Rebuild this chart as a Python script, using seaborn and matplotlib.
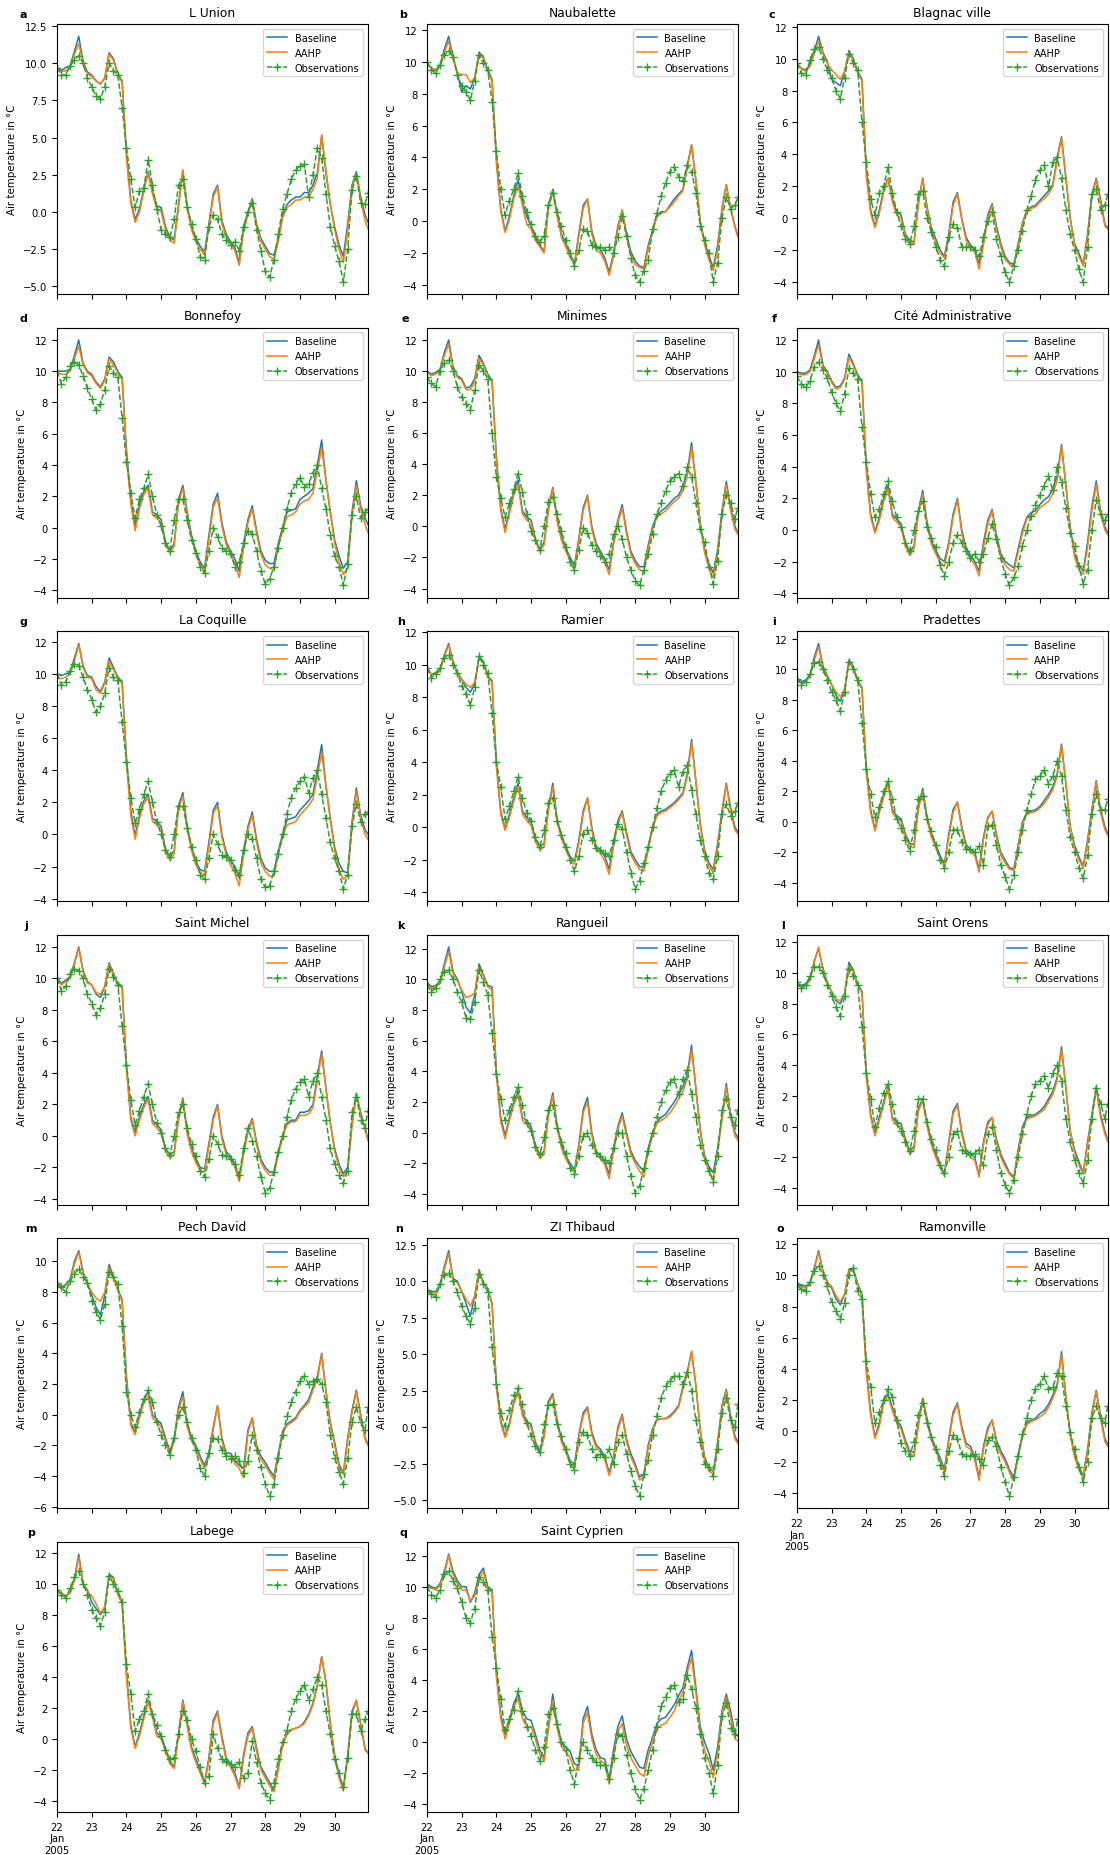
import pandas as pd
import matplotlib
matplotlib.use("Agg")
import matplotlib.pyplot as plt
import matplotlib.dates as mdates
from matplotlib.ticker import MultipleLocator, FuncFormatter
import seaborn as sns

# 3-hourly readings from 22 Jan 2005 00:00, last sample at the right edge (30 Jan 23:00)
TIMES = list(pd.date_range("2005-01-22", periods=72, freq="3h")) + [pd.Timestamp("2005-01-30 23:00")]

# ---- a: L Union
A_BASE = [9.7, 9.5, 9.7, 9.8, 10.8, 11.8, 10.1, 9.4,
          9.2, 8.8, 8.6, 9.0, 10.7, 10.3, 9.3, 8.8,
          4.0, 0.8, -0.5, 0.2, 1.6, 2.7, 1.4, 0.4,
          0.3, -1.0, -1.7, -1.9, 0.5, 2.8, 0.4, -1.0,
          -1.8, -2.3, -2.7, -0.8, 1.2, 1.8, -0.6, -1.5,
          -2.0, -2.4, -3.4, -1.0, 0.0, 0.9, -0.8, -1.8,
          -2.3, -2.8, -2.9, -1.8, -0.2, 0.5, 0.8, 1.0,
          1.0, 1.3, 1.3, 1.8, 2.6, 5.1, 2.6, 0.5,
          -1.0, -2.2, -3.0, -0.8, 1.8, 2.7, 1.0, -0.2, -0.7]
A_AAHP = [9.6, 9.4, 9.5, 9.7, 10.6, 11.3, 10.0, 9.3,
          9.1, 8.8, 8.6, 9.0, 10.6, 10.2, 9.2, 8.7,
          3.6, 0.6, -0.7, 0.0, 1.4, 2.6, 1.2, 0.2,
          0.0, -1.2, -1.9, -2.1, 0.3, 2.8, 0.2, -1.2,
          -2.0, -2.5, -2.9, -1.0, 1.0, 1.7, -0.8, -1.7,
          -2.2, -2.6, -3.6, -1.3, -0.2, 0.9, -1.0, -2.0,
          -2.5, -3.0, -3.2, -2.0, -0.4, 0.3, 0.5, 0.8,
          0.8, 1.0, 1.0, 1.5, 2.3, 5.2, 2.8, 0.5,
          -1.2, -2.5, -3.4, -1.2, 1.6, 2.6, 0.8, -0.6, -1.1]
A_OBS = [9.7, 9.2, 9.2, 9.8, 10.2, 10.5, 10.0, 9.0,
         8.4, 7.8, 7.6, 8.4, 10.0, 9.5, 9.2, 7.0,
         4.3, 2.2, 0.3, 1.4, 1.6, 3.5, 1.8, 0.2,
         -1.2, -1.5, -1.7, -0.5, 1.8, 2.2, 0.3, -0.8,
         -1.8, -3.0, -3.2, -1.0, -0.2, -0.5, -1.5, -1.9,
         -2.2, -2.0, -2.6, -1.0, 0.0, 0.6, -1.2, -2.6,
         -4.0, -4.4, -3.2, -1.5, 0.2, 1.2, 2.2, 2.8,
         3.1, 3.2, 1.0, 2.5, 4.3, 3.6, 1.2, -1.0,
         -2.3, -3.3, -4.7, -2.5, 1.5, 2.4, 0.6, 0.5, 1.3]

# ---- b: Naubalette
B_BASE = [9.9, 9.6, 9.5, 9.8, 10.8, 11.6, 10.3, 9.3,
          8.1, 8.5, 8.3, 9.0, 10.6, 10.3, 9.5, 8.9,
          4.0, 0.8, -0.6, 0.3, 1.6, 2.6, 1.2, 0.3,
          -0.3, -1.0, -1.5, -1.9, 1.0, 2.0, 0.5, -0.8,
          -1.4, -2.1, -2.6, -0.8, 1.0, 1.4, -0.6, -1.6,
          -1.8, -2.3, -3.2, -2.0, -0.3, 0.7, -0.8, -1.9,
          -2.5, -2.8, -2.9, -1.5, -0.6, 0.4, 0.6, 0.6,
          1.0, 1.4, 1.7, 2.0, 3.5, 4.8, 2.5, 0.0,
          -1.3, -2.2, -2.9, -1.5, 0.8, 2.3, 0.8, -0.3, -0.9]
B_AAHP = [9.9, 9.6, 9.5, 9.7, 10.6, 11.3, 10.2, 9.3,
          9.2, 9.2, 8.7, 9.0, 10.5, 10.2, 9.4, 8.8,
          3.6, 0.6, -0.7, 0.1, 1.4, 2.2, 1.0, -0.2,
          -0.5, -1.2, -1.6, -2.0, 0.8, 1.9, 0.3, -1.0,
          -1.6, -2.3, -2.7, -1.0, 0.8, 1.4, -0.8, -1.8,
          -2.0, -2.5, -3.4, -2.2, -0.5, 0.7, -1.0, -2.1,
          -2.7, -2.9, -3.0, -1.7, -0.7, 0.3, 0.5, 0.6,
          0.9, 1.2, 1.6, 1.9, 3.3, 4.8, 2.6, 0.0,
          -1.5, -2.4, -3.1, -1.8, 0.6, 2.3, 0.8, -0.4, -1.0]
B_OBS = [10.0, 9.5, 9.3, 9.8, 10.4, 10.7, 10.3, 9.2,
         8.5, 8.1, 7.6, 8.8, 10.4, 9.9, 9.5, 7.5,
         4.4, 2.0, 0.4, 1.3, 2.0, 3.0, 1.6, 0.6,
         -0.2, -0.9, -1.3, -0.9, 1.0, 1.8, 0.6, -0.3,
         -1.2, -2.0, -2.8, -1.8, -0.5, -0.6, -1.5, -1.6,
         -1.6, -1.8, -1.6, -2.0, -1.0, 0.3, -0.9, -2.3,
         -3.4, -3.8, -3.1, -2.4, -0.5, 0.5, 1.6, 2.4,
         3.1, 3.4, 2.8, 2.5, 3.5, 3.1, 1.8, -0.3,
         -1.2, -2.0, -3.8, -2.6, 0.2, 1.5, 0.8, 1.0, 1.5]

# ---- c: Blagnac ville
C_BASE = [9.7, 9.4, 9.3, 9.6, 10.5, 11.4, 10.4, 9.8,
          8.7, 8.5, 8.3, 9.2, 10.5, 10.0, 9.2, 8.7,
          3.0, 0.5, -0.5, 0.5, 1.8, 2.5, 1.2, 0.4,
          0.2, -1.0, -1.4, -1.5, 1.0, 2.5, 0.7, -0.6,
          -1.3, -2.0, -2.4, -1.0, 1.0, 1.6, 0.0, -1.2,
          -1.7, -1.9, -2.9, -1.5, 0.2, 0.9, -0.5, -1.6,
          -2.4, -2.8, -2.9, -1.6, -0.3, 0.5, 0.7, 0.8,
          1.1, 1.4, 1.7, 2.1, 3.8, 5.1, 2.5, 0.0,
          -1.6, -2.2, -2.9, -1.0, 1.5, 2.5, 1.2, -0.4, -0.6]
C_AAHP = [9.7, 9.4, 9.2, 9.5, 10.3, 11.1, 10.3, 9.7,
          9.3, 9.0, 8.7, 9.2, 10.4, 9.9, 9.1, 8.6,
          2.6, 0.3, -0.6, 0.3, 1.6, 2.5, 1.0, 0.2,
          0.0, -1.1, -1.5, -1.6, 0.8, 2.5, 0.6, -0.8,
          -1.5, -2.2, -2.5, -1.2, 0.8, 1.5, -0.1, -1.4,
          -1.9, -2.1, -3.2, -1.7, 0.0, 0.8, -0.7, -1.8,
          -2.6, -2.9, -3.0, -1.8, -0.4, 0.5, 0.6, 0.7,
          1.0, 1.2, 1.5, 2.0, 3.6, 5.0, 2.6, 0.0,
          -1.7, -2.4, -3.0, -1.2, 1.3, 2.4, 1.0, -0.5, -0.7]
C_OBS = [9.7, 9.1, 9.0, 9.9, 10.6, 10.7, 10.0, 9.3,
         8.8, 8.0, 7.5, 8.8, 10.3, 9.7, 9.3, 6.0,
         3.5, 1.2, 0.2, 1.6, 2.0, 3.2, 1.6, 0.4,
         -0.5, -1.3, -1.6, -0.5, 1.5, 1.7, 0.0, -0.9,
         -1.8, -2.6, -3.0, -1.2, -0.4, -0.6, -1.8, -1.8,
         -1.8, -2.0, -2.4, -1.2, -0.2, 0.4, -1.3, -2.4,
         -3.4, -4.0, -3.0, -2.0, -0.8, 0.5, 1.4, 2.4,
         3.0, 3.3, 2.0, 3.5, 3.8, 2.5, 0.5, -1.0,
         -2.0, -3.2, -4.0, -1.8, 1.5, 1.8, 0.5, 0.8, 1.5]

# ---- d: Bonnefoy
D_BASE = [10.0, 10.0, 10.0, 10.1, 11.0, 12.0, 10.5, 10.0,
          9.8, 9.3, 9.0, 9.5, 10.9, 10.6, 10.0, 9.6,
          5.0, 1.8, 0.0, 1.5, 2.3, 2.7, 1.0, 0.8,
          0.5, -0.9, -1.5, -1.0, 1.8, 2.7, 1.0, -0.5,
          -1.5, -2.2, -2.6, -0.5, 1.5, 2.2, 0.3, -0.9,
          -1.5, -2.0, -2.8, -1.0, 0.5, 1.4, -0.2, -1.5,
          -2.1, -2.3, -2.3, -1.0, 0.0, 1.0, 1.1, 1.2,
          1.8, 2.0, 2.2, 2.5, 4.0, 5.6, 3.0, 1.0,
          -0.8, -1.8, -2.6, -2.2, 1.0, 3.0, 1.4, 0.6, 0.2]
D_AAHP = [9.9, 9.8, 9.8, 10.0, 10.8, 11.6, 10.4, 9.9,
          9.7, 9.2, 8.9, 9.4, 10.8, 10.4, 9.9, 9.5,
          4.6, 1.5, -0.2, 1.2, 2.1, 2.5, 0.8, 0.6,
          0.3, -1.1, -1.6, -1.2, 1.6, 2.5, 0.8, -0.7,
          -1.7, -2.4, -2.8, -0.8, 1.3, 1.9, 0.1, -1.1,
          -1.7, -2.3, -3.2, -1.3, 0.3, 1.2, -0.4, -1.7,
          -2.4, -2.6, -2.7, -1.2, -0.2, 0.7, 0.8, 1.0,
          1.5, 1.7, 1.8, 2.2, 3.6, 5.1, 3.0, 0.9,
          -1.0, -2.2, -3.0, -2.6, 0.8, 2.7, 1.2, 0.2, -0.3]
D_OBS = [10.0, 9.2, 9.6, 10.3, 10.6, 10.4, 9.7, 8.9,
         8.2, 7.5, 7.9, 8.8, 10.3, 9.9, 9.6, 7.0,
         4.2, 2.2, 0.6, 1.8, 2.5, 3.4, 2.0, 0.8,
         0.1, -1.0, -1.5, 0.5, 1.8, 1.8, 0.5, -0.8,
         -1.6, -2.5, -2.9, -1.5, 0.0, -0.6, -1.3, -1.5,
         -1.7, -2.5, -2.2, -1.0, -0.2, -0.4, -1.5, -2.8,
         -3.6, -3.3, -2.5, -1.3, 0.0, 1.2, 2.2, 2.8,
         3.2, 2.6, 2.8, 3.5, 4.0, 2.5, 1.2, -0.5,
         -1.8, -2.5, -3.7, -2.3, 0.8, 2.0, 0.6, 1.0, 1.2]

# ---- e: Minimes
E_BASE = [10.0, 9.8, 9.9, 10.1, 11.2, 12.0, 10.3, 9.7,
          9.5, 8.9, 9.0, 9.5, 11.0, 10.5, 9.8, 9.4,
          4.5, 1.2, -0.2, 1.0, 2.2, 3.0, 1.0, 0.6,
          0.4, -0.8, -1.5, -1.0, 1.2, 2.5, 0.5, -0.7,
          -1.4, -2.0, -2.5, -0.8, 1.2, 2.0, 0.0, -1.1,
          -1.6, -2.1, -2.8, -1.0, 0.4, 1.4, -0.3, -1.6,
          -2.2, -2.6, -2.6, -1.2, 0.0, 0.7, 1.0, 1.2,
          1.5, 1.8, 2.0, 2.6, 3.5, 5.4, 2.8, 0.2,
          -1.5, -2.4, -3.0, -1.5, 1.0, 2.9, 1.2, 0.0, -0.4]
E_AAHP = [9.9, 9.7, 9.8, 10.0, 11.0, 11.7, 10.2, 9.6,
          9.4, 8.8, 8.8, 9.3, 10.8, 10.4, 9.7, 9.3,
          4.2, 1.0, -0.4, 0.8, 2.0, 2.7, 0.8, 0.4,
          0.2, -1.0, -1.6, -1.2, 1.0, 2.4, 0.3, -0.9,
          -1.6, -2.2, -2.7, -1.0, 1.0, 1.9, -0.2, -1.3,
          -1.8, -2.3, -3.1, -1.2, 0.2, 1.2, -0.5, -1.8,
          -2.4, -2.8, -2.9, -1.4, -0.2, 0.6, 0.8, 1.0,
          1.3, 1.6, 1.8, 2.3, 3.2, 5.1, 2.8, 0.1,
          -1.7, -2.7, -3.3, -1.8, 0.8, 2.7, 1.0, -0.2, -0.5]
E_OBS = [9.6, 9.2, 9.0, 10.0, 10.5, 10.7, 10.0, 9.0,
         8.3, 7.9, 7.5, 8.8, 10.4, 10.0, 9.5, 6.0,
         3.2, 1.8, 0.6, 1.5, 2.4, 3.4, 2.2, 0.8,
         -0.3, -0.9, -1.5, 0.0, 1.6, 1.9, 0.8, -0.3,
         -1.3, -2.3, -2.8, -1.5, -0.1, -0.4, -1.2, -1.6,
         -1.9, -2.3, -1.8, -0.5, 0.0, -0.8, -2.0, -2.8,
         -3.5, -3.8, -2.8, -1.8, -0.5, 0.8, 1.5, 2.3,
         2.9, 3.2, 3.4, 2.6, 3.8, 3.2, 1.5, -0.2,
         -1.0, -2.6, -3.7, -2.2, 0.8, 2.0, 1.5, 0.5, 1.2]

# ---- f: Cité Administrative
F_BASE = [10.0, 9.9, 9.9, 10.1, 11.0, 12.0, 10.4, 10.0,
          9.4, 9.0, 9.1, 9.6, 11.1, 10.5, 9.8, 9.4,
          4.0, 1.0, -0.1, 0.8, 2.0, 2.8, 1.0, 0.7,
          0.4, -0.8, -1.4, -1.0, 1.2, 2.5, 0.5, -0.7,
          -1.3, -1.8, -2.0, -0.8, 1.0, 2.0, 0.0, -1.1,
          -1.6, -2.0, -2.6, -0.8, 0.6, 1.3, -0.3, -1.5,
          -2.0, -2.2, -2.4, -1.2, 0.0, 0.8, 1.1, 1.2,
          1.6, 1.9, 2.1, 2.6, 3.4, 5.4, 2.8, 0.2,
          -1.5, -2.2, -2.6, -0.8, 1.5, 3.1, 1.2, 0.2, -0.2]
F_AAHP = [9.9, 9.8, 9.8, 10.0, 10.8, 11.7, 10.3, 9.9,
          9.3, 8.9, 9.0, 9.5, 10.9, 10.4, 9.7, 9.3,
          3.7, 0.8, -0.2, 0.6, 1.8, 2.6, 0.8, 0.5,
          0.2, -1.0, -1.6, -1.2, 1.0, 2.3, 0.3, -0.9,
          -1.5, -2.0, -2.3, -1.0, 0.8, 1.9, -0.2, -1.3,
          -1.8, -2.2, -2.9, -1.1, 0.4, 1.2, -0.5, -1.7,
          -2.2, -2.5, -2.6, -1.4, -0.2, 0.7, 0.9, 1.0,
          1.4, 1.6, 1.8, 2.3, 3.1, 5.3, 2.9, 0.1,
          -1.7, -2.5, -2.8, -1.1, 1.2, 2.9, 1.0, 0.0, -0.3]
F_OBS = [9.7, 9.2, 9.0, 9.4, 10.3, 10.6, 10.1, 9.6,
         8.7, 8.0, 7.5, 8.6, 10.2, 9.9, 9.5, 6.5,
         4.3, 2.3, 0.8, 1.3, 2.3, 3.1, 1.8, 0.8,
         0.2, -0.8, -1.3, 0.0, 1.2, 1.8, 0.2, -0.5,
         -1.1, -2.2, -2.9, -2.0, -0.8, -0.3, -0.8, -1.3,
         -1.8, -1.5, -2.0, -1.5, -0.5, 0.4, -0.6, -1.8,
         -2.8, -3.5, -3.0, -2.3, -1.0, 0.0, 0.9, 1.6,
         2.2, 2.8, 3.4, 2.5, 4.0, 3.0, 1.4, -0.2,
         -1.0, -2.3, -3.4, -2.5, 0.0, 1.9, 1.0, 0.6, 1.0]

# ---- g: La Coquille
G_BASE = [10.0, 9.9, 10.0, 10.1, 11.0, 11.9, 10.5, 9.9,
          9.8, 9.2, 8.9, 9.5, 11.0, 10.4, 9.8, 9.5,
          4.8, 1.5, -0.1, 1.2, 2.1, 2.5, 1.0, 0.8,
          0.5, -0.9, -1.4, -1.0, 1.8, 2.6, 0.5, -0.8,
          -1.7, -2.2, -2.3, -0.5, 1.5, 2.0, 0.0, -1.1,
          -1.6, -2.0, -2.7, -1.0, 0.5, 1.4, -0.3, -1.5,
          -2.1, -2.3, -2.3, -1.0, 0.0, 0.9, 1.0, 1.1,
          1.5, 1.8, 2.1, 2.5, 4.0, 5.6, 3.0, 1.0,
          -0.8, -1.8, -2.3, -2.4, 0.8, 2.9, 1.2, 0.3, 0.0]
G_AAHP = [9.8, 9.7, 9.8, 10.0, 10.8, 11.8, 10.4, 9.8,
          9.7, 9.0, 8.8, 9.4, 10.8, 10.3, 9.7, 9.4,
          4.4, 1.2, -0.3, 1.0, 1.9, 2.3, 0.8, 0.6,
          0.3, -1.1, -1.6, -1.2, 1.6, 2.4, 0.3, -1.0,
          -1.9, -2.4, -2.5, -0.8, 1.3, 1.8, -0.2, -1.3,
          -1.9, -2.4, -3.2, -1.3, 0.3, 1.2, -0.5, -1.8,
          -2.3, -2.6, -2.6, -1.2, -0.2, 0.6, 0.7, 0.8,
          1.2, 1.5, 1.8, 2.2, 3.6, 5.1, 3.0, 0.9,
          -1.0, -2.2, -2.8, -2.6, 0.6, 2.7, 1.0, 0.0, -0.3]
G_OBS = [10.0, 9.3, 9.5, 10.2, 10.6, 10.5, 9.8, 9.0,
         8.4, 7.6, 8.0, 8.8, 10.4, 9.8, 9.6, 7.0,
         4.5, 2.3, 0.7, 1.6, 2.5, 3.3, 2.0, 0.8,
         0.0, -1.0, -1.4, 0.0, 1.8, 1.8, 0.4, -0.8,
         -1.6, -2.5, -2.8, -1.5, 0.0, -0.6, -1.3, -1.4,
         -1.6, -2.2, -2.5, -1.0, 0.0, -0.3, -1.5, -2.8,
         -3.3, -3.2, -2.3, -1.2, 0.0, 1.3, 2.3, 2.9,
         3.3, 3.6, 2.6, 3.5, 4.0, 2.5, 1.0, -0.5,
         -1.5, -2.3, -3.4, -2.5, 0.5, 1.9, 0.8, 1.3, 1.4]

# ---- h: Ramier
H_BASE = [9.8, 9.4, 9.5, 9.7, 10.6, 11.3, 10.2, 9.5,
          9.1, 8.6, 8.3, 8.8, 10.5, 10.2, 9.3, 9.0,
          4.0, 1.0, -0.1, 0.8, 1.8, 2.7, 1.0, 0.6,
          0.3, -0.7, -1.2, -1.0, 1.2, 2.7, 0.5, -0.5,
          -1.2, -1.8, -2.1, -0.8, 1.0, 1.8, 0.0, -1.2,
          -1.4, -1.8, -2.6, -1.0, 0.4, 1.0, -0.3, -1.5,
          -2.0, -2.4, -2.5, -1.2, 0.0, 0.8, 1.0, 1.1,
          1.3, 1.5, 1.8, 2.1, 3.3, 5.4, 2.8, 0.2,
          -1.4, -2.2, -2.6, -1.0, 1.0, 2.7, 1.2, 0.0, -0.3]
H_AAHP = [9.8, 9.4, 9.4, 9.6, 10.5, 11.2, 10.1, 9.4,
          9.1, 8.8, 8.6, 8.9, 10.4, 10.1, 9.2, 8.9,
          3.7, 0.8, -0.2, 0.6, 1.6, 2.5, 0.8, 0.4,
          0.1, -0.9, -1.4, -1.2, 1.0, 2.5, 0.3, -0.7,
          -1.4, -2.0, -2.3, -1.0, 0.8, 1.8, -0.2, -1.4,
          -1.6, -2.1, -2.9, -1.2, 0.2, 0.9, -0.5, -1.7,
          -2.2, -2.6, -2.7, -1.4, -0.1, 0.7, 0.9, 1.0,
          1.2, 1.4, 1.7, 2.0, 3.1, 5.2, 2.8, 0.1,
          -1.6, -2.4, -2.8, -1.2, 0.8, 2.6, 1.0, -0.2, -0.4]
H_OBS = [9.8, 9.2, 9.4, 9.8, 10.4, 10.6, 10.0, 9.5,
         8.7, 8.2, 7.5, 8.6, 10.5, 10.0, 9.5, 7.0,
         4.0, 2.5, 0.5, 1.3, 2.2, 3.1, 1.8, 0.9,
         0.4, -0.6, -1.2, -0.2, 1.5, 1.8, 0.4, -0.5,
         -1.2, -2.0, -2.7, -1.8, -0.4, -0.2, -0.8, -1.3,
         -1.4, -1.6, -1.8, -0.8, 0.2, -0.1, -1.5, -2.8,
         -3.8, -3.3, -2.2, -1.2, 0.0, 1.2, 2.2, 2.9,
         3.3, 3.5, 2.5, 3.4, 3.8, 2.3, 0.8, -0.8,
         -1.8, -2.8, -3.2, -1.8, 0.8, 1.4, 0.7, 1.0, 1.5]

# ---- i: Pradettes
I_BASE = [9.4, 9.2, 9.3, 9.6, 10.8, 11.7, 10.2, 9.6,
          9.0, 8.3, 7.9, 8.7, 10.6, 10.2, 9.3, 8.8,
          3.5, 0.8, -0.5, 0.8, 1.8, 2.6, 0.8, 0.4,
          0.2, -0.8, -1.4, -1.5, 1.0, 2.2, 0.3, -0.8,
          -1.5, -2.2, -2.8, -0.8, 0.8, 1.3, -0.3, -1.5,
          -1.8, -2.0, -3.1, -1.0, 0.3, 0.7, -0.8, -2.0,
          -2.5, -3.0, -3.1, -1.5, 0.0, 0.6, 0.7, 0.8,
          1.0, 1.4, 1.8, 2.3, 3.2, 5.1, 2.5, -0.3,
          -1.5, -2.3, -2.9, -1.2, 0.8, 2.7, 0.8, -0.3, -0.8]
I_AAHP = [9.3, 9.1, 9.2, 9.5, 10.6, 11.5, 10.1, 9.5,
          9.0, 8.5, 8.2, 8.7, 10.5, 10.1, 9.2, 8.7,
          3.2, 0.6, -0.6, 0.6, 1.6, 2.5, 0.6, 0.2,
          0.0, -1.0, -1.6, -1.7, 0.8, 2.0, 0.1, -1.0,
          -1.7, -2.4, -2.9, -1.0, 0.6, 1.3, -0.5, -1.7,
          -2.0, -2.2, -3.3, -1.2, 0.2, 0.7, -1.0, -2.2,
          -2.7, -3.1, -3.2, -1.7, -0.1, 0.5, 0.6, 0.7,
          0.9, 1.2, 1.6, 2.1, 3.0, 5.0, 2.6, -0.3,
          -1.7, -2.5, -3.0, -1.4, 0.6, 2.6, 0.6, -0.5, -0.9]
I_OBS = [9.4, 9.0, 9.2, 9.7, 10.4, 10.5, 10.0, 9.3,
         8.5, 8.0, 7.3, 8.5, 10.5, 10.0, 9.3, 6.5,
         3.5, 1.8, 0.3, 1.0, 2.0, 2.7, 1.5, 0.2,
         -0.4, -1.2, -1.9, -0.5, 1.5, 1.7, 0.2, -0.6,
         -1.5, -2.5, -3.0, -2.0, -0.5, -0.5, -1.3, -1.8,
         -1.8, -2.0, -1.6, -2.8, -0.3, -0.2, -1.5, -2.8,
         -3.6, -4.4, -3.5, -2.0, -0.5, 0.8, 1.8, 2.8,
         3.0, 3.4, 2.5, 3.0, 4.0, 3.0, 0.8, -1.0,
         -2.0, -3.0, -3.7, -2.2, 0.5, 1.8, 0.8, 0.8, 1.5]

# ---- j: Saint Michel
J_BASE = [10.0, 9.7, 9.9, 10.1, 11.0, 12.0, 10.5, 9.8,
          9.6, 9.0, 8.8, 9.5, 11.0, 10.3, 9.7, 9.5,
          4.5, 1.2, 0.2, 1.2, 2.0, 2.5, 1.0, 0.7,
          0.4, -0.8, -1.2, -1.0, 1.2, 2.4, 0.3, -0.8,
          -1.5, -2.0, -2.1, -0.5, 1.2, 2.0, 0.0, -1.0,
          -1.3, -1.8, -2.7, -1.0, 0.4, 1.1, -0.4, -1.5,
          -2.0, -2.3, -2.3, -1.0, 0.0, 0.8, 1.0, 1.0,
          1.5, 1.5, 1.6, 2.0, 3.8, 5.4, 3.0, 0.8,
          -0.8, -1.8, -2.4, -2.0, 0.8, 2.7, 1.5, 0.5, -0.2]
J_AAHP = [9.9, 9.6, 9.8, 10.0, 10.9, 11.9, 10.4, 9.7,
          9.6, 9.1, 9.0, 9.5, 10.9, 10.2, 9.6, 9.4,
          4.2, 1.0, 0.0, 1.0, 1.8, 2.3, 0.8, 0.5,
          0.2, -1.0, -1.4, -1.2, 1.0, 2.3, 0.1, -1.0,
          -1.7, -2.2, -2.3, -0.7, 1.0, 1.9, -0.2, -1.2,
          -1.5, -2.0, -2.9, -1.2, 0.2, 1.0, -0.6, -1.7,
          -2.2, -2.5, -2.5, -1.2, -0.1, 0.7, 0.9, 0.9,
          1.3, 1.3, 1.4, 1.8, 3.5, 5.2, 3.0, 0.8,
          -1.0, -2.0, -2.6, -2.2, 0.6, 2.6, 1.4, 0.4, -0.3]
J_OBS = [10.0, 9.2, 9.5, 10.3, 10.6, 10.5, 10.0, 9.0,
         8.4, 7.7, 8.1, 9.0, 10.6, 10.1, 9.6, 7.0,
         4.5, 2.3, 0.7, 1.6, 2.5, 3.3, 2.0, 0.8,
         0.2, -0.8, -1.2, 0.0, 1.5, 2.0, 0.5, -0.5,
         -1.3, -2.2, -2.6, -1.5, 0.0, -0.5, -1.2, -1.3,
         -1.5, -1.8, -2.5, -0.8, 0.5, -0.3, -1.3, -2.6,
         -3.6, -3.3, -2.3, -1.0, 0.0, 1.2, 2.3, 3.0,
         3.4, 3.6, 2.5, 3.5, 4.0, 2.5, 1.0, -0.8,
         -1.8, -2.5, -3.0, -2.2, 1.5, 2.5, 1.0, 0.5, 1.6]

# ---- k: Rangueil
K_BASE = [9.8, 9.5, 9.6, 9.8, 11.0, 12.1, 10.5, 10.0,
          9.2, 8.2, 7.8, 9.0, 11.0, 10.3, 9.6, 9.5,
          4.0, 1.0, -0.2, 1.0, 2.0, 2.7, 1.0, 0.8,
          0.4, -0.8, -1.5, -1.2, 1.3, 2.6, 0.5, -0.8,
          -1.5, -2.0, -2.4, -0.8, 1.5, 2.3, 0.0, -1.2,
          -1.5, -1.9, -2.7, -1.0, 0.4, 1.3, 0.0, -1.2,
          -1.8, -2.2, -2.5, -1.0, 0.0, 0.7, 1.0, 1.2,
          1.6, 2.0, 2.5, 3.0, 3.8, 5.7, 2.8, 0.2,
          -1.5, -2.2, -2.6, -1.0, 1.0, 3.2, 1.2, 0.0, -0.3]
K_AAHP = [9.7, 9.4, 9.5, 9.7, 10.8, 11.8, 10.4, 9.9,
          9.3, 8.8, 8.9, 9.1, 10.8, 10.2, 9.5, 9.3,
          3.7, 0.7, -0.4, 0.8, 1.8, 2.5, 0.8, 0.6,
          0.2, -1.0, -1.7, -1.4, 1.1, 2.4, 0.3, -1.0,
          -1.7, -2.2, -2.6, -1.0, 1.3, 2.0, -0.2, -1.4,
          -1.7, -2.1, -3.0, -1.2, 0.2, 1.1, -0.2, -1.4,
          -2.0, -2.5, -2.9, -1.2, -0.2, 0.6, 0.8, 1.0,
          1.3, 1.7, 2.2, 2.7, 3.5, 5.4, 2.9, 0.1,
          -1.7, -2.5, -3.0, -1.2, 0.8, 3.0, 1.0, -0.2, -0.5]
K_OBS = [9.6, 9.2, 9.4, 10.0, 10.5, 10.6, 10.0, 9.2,
         8.5, 7.5, 7.4, 8.5, 10.6, 9.8, 9.0, 6.5,
         3.8, 2.2, 0.8, 1.5, 2.3, 3.0, 1.8, 0.6,
         0.1, -0.9, -1.4, -0.3, 1.5, 1.8, 0.3, -0.6,
         -1.3, -2.3, -2.7, -1.5, -0.2, 0.0, -0.8, -1.3,
         -1.5, -1.8, -2.0, -1.0, 0.0, 0.0, -1.5, -2.8,
         -3.9, -3.5, -2.3, -1.2, 0.0, 1.0, 2.0, 2.8,
         3.3, 3.5, 2.5, 3.5, 4.1, 2.5, 1.0, -0.8,
         -1.8, -2.5, -3.2, -1.5, 1.5, 2.2, 1.0, 0.5, 1.5]

# ---- l: Saint Orens
L_BASE = [9.3, 9.2, 9.3, 9.6, 10.8, 11.6, 10.3, 9.4,
          8.8, 8.2, 8.0, 8.7, 10.7, 10.2, 9.3, 8.8,
          3.5, 0.8, -0.5, 0.6, 1.6, 2.6, 0.6, 0.3,
          0.2, -0.8, -1.6, -1.3, 1.2, 1.8, 0.2, -1.0,
          -1.8, -2.5, -3.1, -1.0, 1.0, 1.5, -0.3, -1.5,
          -1.8, -2.0, -3.2, -1.0, 0.3, 0.6, -0.8, -1.8,
          -2.4, -3.0, -3.3, -1.5, 0.0, 0.6, 0.7, 0.8,
          1.0, 1.3, 1.8, 2.3, 3.2, 5.2, 2.5, -0.3,
          -1.5, -2.3, -3.0, -1.0, 0.8, 2.6, 0.8, -0.3, -0.9]
L_AAHP = [9.2, 9.1, 9.2, 9.5, 10.7, 11.7, 10.2, 9.3,
          8.8, 8.3, 8.2, 8.7, 10.5, 10.1, 9.2, 8.7,
          3.2, 0.6, -0.6, 0.4, 1.4, 2.5, 0.4, 0.1,
          0.0, -1.0, -1.8, -1.5, 1.0, 1.7, 0.0, -1.2,
          -2.0, -2.7, -3.2, -1.2, 0.8, 1.4, -0.5, -1.7,
          -2.0, -2.2, -3.3, -1.2, 0.1, 0.6, -1.0, -2.0,
          -2.6, -3.1, -3.4, -1.7, -0.2, 0.5, 0.6, 0.7,
          0.9, 1.1, 1.6, 2.1, 3.0, 5.0, 2.6, -0.3,
          -1.7, -2.5, -3.1, -1.2, 0.6, 2.5, 0.6, -0.5, -1.0]
L_OBS = [9.4, 9.0, 9.2, 9.8, 10.4, 10.4, 10.0, 9.2,
         8.5, 7.8, 7.2, 8.5, 10.3, 9.8, 9.2, 6.5,
         3.5, 1.8, 0.0, 1.2, 2.2, 2.8, 1.5, 0.2,
         -0.3, -1.0, -1.6, -0.3, 1.8, 1.8, 0.3, -0.8,
         -1.5, -2.5, -3.0, -2.0, -0.5, -0.3, -1.5, -1.7,
         -1.8, -1.7, -1.5, -2.5, -0.5, 0.0, -1.5, -3.0,
         -3.8, -4.3, -3.5, -2.0, -0.5, 0.8, 2.0, 2.8,
         3.0, 3.3, 2.5, 3.5, 4.0, 3.0, 0.5, -1.0,
         -2.2, -3.0, -3.7, -2.2, 0.5, 2.5, 1.5, 0.5, 1.5]

# ---- m: Pech David
M_BASE = [8.6, 8.3, 8.5, 8.8, 10.0, 10.7, 9.3, 8.6,
          7.8, 7.0, 6.5, 7.8, 9.8, 9.0, 8.2, 7.5,
          2.5, -0.5, -1.2, 0.0, 1.0, 1.5, 0.0, -0.3,
          -0.6, -1.5, -2.4, -1.5, 0.5, 1.5, -0.6, -1.5,
          -2.0, -2.7, -3.3, -2.5, -0.8, 0.6, -1.5, -2.5,
          -2.5, -3.0, -3.3, -3.5, -1.0, -0.2, -2.0, -2.7,
          -3.1, -3.6, -4.0, -2.5, -1.1, -0.6, -0.4, -0.2,
          0.3, 0.6, 1.0, 1.8, 2.5, 4.0, 1.5, -0.5,
          -1.8, -3.2, -3.8, -1.5, 0.3, 1.6, 0.0, -1.5, -1.9]
M_AAHP = [8.5, 8.2, 8.4, 8.7, 9.8, 10.6, 9.2, 8.5,
          8.0, 7.6, 7.4, 8.0, 9.6, 8.9, 8.1, 7.4,
          2.2, -0.7, -1.3, -0.2, 0.8, 1.2, -0.2, -0.5,
          -0.8, -1.7, -2.6, -1.7, 0.3, 1.2, -0.8, -1.7,
          -2.2, -2.9, -3.5, -2.7, -1.0, 0.6, -1.7, -2.7,
          -2.7, -3.2, -3.5, -4.1, -1.2, -0.2, -2.2, -2.9,
          -3.3, -3.8, -4.2, -2.7, -1.2, -0.7, -0.5, -0.3,
          0.2, 0.5, 0.8, 1.6, 2.3, 3.9, 1.5, -0.6,
          -2.0, -3.4, -3.9, -1.7, 0.1, 1.5, -0.1, -1.6, -2.0]
M_OBS = [8.6, 8.3, 8.0, 8.7, 9.2, 9.5, 9.0, 8.6,
         7.4, 6.7, 6.2, 7.2, 9.3, 9.0, 8.5, 5.8,
         1.5, 0.0, -0.8, 0.2, 1.0, 1.6, 0.8, -0.5,
         -1.3, -2.0, -2.6, -1.5, 0.0, 0.5, -0.5, -1.5,
         -2.3, -3.5, -4.0, -2.5, -1.5, -1.6, -2.3, -2.7,
         -2.9, -2.7, -3.0, -3.8, -3.0, -1.3, -2.3, -3.4,
         -4.5, -5.3, -4.5, -2.8, -1.3, -0.1, 0.8, 1.5,
         2.2, 2.5, 2.0, 2.2, 2.3, 2.0, 0.8, -1.3,
         -2.8, -3.7, -4.5, -2.8, -0.5, 0.5, -0.5, -1.0, 0.5]

# ---- n: ZI Thibaud
N_BASE = [9.4, 9.3, 9.3, 9.8, 11.0, 12.1, 10.2, 10.0,
          9.3, 8.5, 7.6, 9.0, 10.8, 9.9, 9.5, 8.5,
          3.0, 0.5, -0.6, 0.3, 1.8, 2.5, 1.0, 0.4,
          0.2, -1.0, -1.7, -0.5, 1.8, 2.3, 0.5, -0.8,
          -1.5, -2.3, -2.5, -0.5, 1.0, 1.4, -0.3, -1.2,
          -1.5, -2.0, -3.1, -2.0, 0.0, 0.9, -0.8, -1.8,
          -2.5, -3.4, -3.2, -1.2, -0.1, 0.5, 0.6, 0.6,
          0.8, 1.1, 1.5, 2.8, 3.8, 5.2, 2.8, -0.2,
          -2.0, -2.8, -3.0, -1.0, 1.5, 2.6, 0.8, -0.6, -1.0]
N_AAHP = [9.3, 9.2, 9.2, 9.7, 10.8, 11.9, 10.1, 9.9,
          9.3, 8.8, 8.3, 9.0, 10.7, 9.8, 9.4, 8.4,
          2.7, 0.3, -0.7, 0.1, 1.6, 2.4, 0.8, 0.2,
          0.0, -1.2, -1.8, -0.7, 1.6, 2.2, 0.3, -1.0,
          -1.7, -2.5, -2.7, -0.7, 0.8, 1.3, -0.5, -1.4,
          -1.7, -2.2, -3.3, -2.2, -0.2, 0.8, -1.0, -2.0,
          -2.7, -3.6, -3.4, -1.4, -0.2, 0.5, 0.6, 0.6,
          0.7, 1.0, 1.4, 2.6, 3.6, 5.2, 2.9, -0.2,
          -2.2, -3.0, -3.2, -1.2, 1.3, 2.5, 0.6, -0.8, -1.1]
N_OBS = [9.4, 9.1, 8.9, 9.8, 10.4, 10.6, 10.0, 9.3,
         8.3, 7.6, 7.1, 8.2, 10.5, 9.8, 9.3, 5.5,
         3.0, 1.0, 0.1, 1.2, 2.2, 2.7, 1.6, 0.3,
         -0.6, -1.3, -1.7, 0.2, 1.5, 1.6, 0.2, -0.6,
         -1.5, -2.5, -2.9, -1.0, -0.3, -0.5, -1.5, -2.0,
         -1.8, -2.0, -1.5, -2.5, -1.0, -0.5, -1.8, -3.0,
         -4.0, -4.7, -3.2, -2.2, -0.5, 0.8, 2.0, 2.8,
         3.2, 3.5, 3.5, 3.0, 3.8, 2.5, 0.5, -1.0,
         -2.5, -2.7, -3.3, -1.5, 1.0, 2.0, 0.5, 0.0, 1.6]

# ---- o: Ramonville
O_BASE = [9.5, 9.4, 9.3, 9.5, 10.5, 11.6, 10.3, 9.6,
          9.2, 8.5, 8.1, 8.8, 10.4, 10.4, 9.5, 8.8,
          4.0, 1.2, -0.4, 0.5, 2.0, 2.4, 1.5, 0.7,
          0.3, -0.6, -1.3, -1.4, 0.5, 2.1, 0.8, -0.4,
          -1.1, -1.7, -2.5, -0.5, 1.2, 1.8, 0.3, -0.8,
          -1.0, -1.7, -3.0, -1.0, 0.2, 0.7, -0.6, -1.3,
          -1.8, -2.5, -3.0, -1.5, -0.3, 0.5, 0.7, 0.8,
          1.1, 1.3, 1.7, 2.3, 3.0, 5.1, 2.2, -0.2,
          -1.5, -2.3, -2.9, -1.2, 1.2, 2.6, 1.0, -0.5, -0.9]
O_AAHP = [9.4, 9.3, 9.2, 9.4, 10.4, 11.5, 10.2, 9.5,
          9.3, 8.7, 8.3, 8.8, 10.3, 10.3, 9.4, 8.7,
          3.7, 1.0, -0.5, 0.3, 1.8, 2.2, 1.3, 0.5,
          0.1, -0.8, -1.5, -1.6, 0.3, 2.0, 0.6, -0.6,
          -1.3, -1.9, -2.7, -0.7, 1.0, 1.7, 0.1, -1.0,
          -1.2, -1.9, -3.2, -1.2, 0.0, 0.7, -0.8, -1.5,
          -2.0, -2.7, -3.2, -1.7, -0.4, 0.4, 0.6, 0.7,
          0.9, 1.1, 1.5, 2.1, 2.8, 4.9, 2.3, -0.3,
          -1.7, -2.5, -3.0, -1.4, 1.0, 2.5, 0.8, -0.7, -1.0]
O_OBS = [9.4, 9.1, 9.0, 9.6, 10.3, 10.6, 10.0, 9.3,
         8.3, 7.7, 7.2, 8.2, 10.0, 10.5, 9.0, 8.5,
         4.5, 2.8, 0.5, 1.2, 2.0, 2.7, 2.2, 0.7,
         -0.8, -1.3, -1.6, -0.7, 1.0, 1.8, 0.5, -0.4,
         -1.2, -2.2, -2.9, -1.3, -0.3, -0.5, -1.5, -1.6,
         -1.6, -1.5, -1.8, -2.2, -0.6, -0.4, -1.0, -2.3,
         -3.3, -4.2, -3.0, -1.6, -0.2, 0.8, 2.0, 2.7,
         3.0, 3.5, 2.7, 2.8, 3.7, 3.5, 1.6, -0.1,
         -1.2, -2.3, -3.3, -2.0, 0.8, 1.6, 0.8, 0.5, 1.6]

# ---- p: Labege
P_BASE = [9.5, 9.4, 9.2, 9.4, 10.3, 11.9, 10.0, 9.6,
          8.8, 8.4, 8.0, 8.5, 10.6, 10.4, 9.4, 8.8,
          4.3, 0.9, -0.5, 0.4, 1.5, 2.5, 1.6, 0.4,
          0.2, -0.6, -1.4, -1.8, 0.4, 2.5, 1.0, -0.5,
          -1.3, -2.0, -2.8, -1.2, 1.2, 1.8, 0.2, -1.2,
          -1.6, -2.2, -3.1, -1.0, 0.4, 0.8, -0.6, -1.8,
          -2.3, -2.8, -3.3, -1.8, -0.3, 0.3, 0.6, 0.7,
          0.8, 1.1, 1.6, 2.3, 3.5, 5.3, 3.6, 1.0,
          -1.0, -2.3, -3.2, -1.0, 1.8, 2.5, 1.0, -0.6, -0.9]
P_AAHP = [9.5, 9.4, 9.2, 9.4, 10.2, 11.7, 10.0, 9.5,
          9.2, 8.7, 8.1, 8.5, 10.5, 10.3, 9.3, 8.7,
          4.0, 0.7, -0.6, 0.2, 1.3, 2.4, 1.4, 0.2,
          0.0, -0.8, -1.6, -1.9, 0.2, 2.4, 0.8, -0.7,
          -1.5, -2.2, -2.9, -1.4, 1.0, 1.7, 0.0, -1.4,
          -1.8, -2.4, -3.2, -1.2, 0.2, 0.7, -0.8, -2.0,
          -2.5, -3.0, -3.4, -2.0, -0.4, 0.3, 0.6, 0.7,
          0.8, 1.0, 1.5, 2.2, 3.4, 5.3, 3.7, 1.0,
          -1.2, -2.5, -3.3, -1.2, 1.6, 2.5, 0.9, -0.7, -0.9]
P_OBS = [9.6, 9.3, 9.1, 9.7, 10.4, 10.8, 10.0, 9.3,
         8.3, 7.8, 7.3, 8.2, 10.5, 10.0, 9.5, 8.8,
         4.8, 2.9, 0.5, 1.3, 1.8, 2.9, 1.6, 0.9,
         0.2, -0.7, -1.3, -1.2, 0.3, 1.8, 1.2, 0.0,
         -0.8, -1.8, -2.8, -2.4, 0.3, -0.6, -1.3, -1.5,
         -1.6, -1.8, -1.5, -2.5, -2.2, -0.1, -1.5, -2.8,
         -3.5, -3.9, -2.8, -1.3, -0.2, 0.6, 1.8, 2.6,
         3.1, 3.5, 2.5, 3.2, 4.0, 3.5, 1.8, 0.3,
         -1.3, -2.2, -3.1, -1.2, 1.6, 1.6, 0.5, 1.3, 1.8]

# ---- q: Saint Cyprien
Q_BASE = [10.2, 10.0, 9.9, 10.2, 11.0, 12.1, 11.0, 10.4,
          10.0, 10.0, 9.0, 9.6, 10.8, 11.2, 10.0, 9.8,
          4.5, 1.8, 0.5, 1.4, 2.5, 3.1, 2.0, 1.5,
          1.4, 0.5, -0.5, -1.0, 1.0, 3.1, 1.2, 0.0,
          -0.3, -0.6, -1.4, -1.5, 1.5, 2.3, 0.5, -0.5,
          -1.0, -1.1, -2.4, -0.5, 1.0, 1.7, 0.2, -0.6,
          -1.1, -1.6, -1.7, -0.5, 0.3, 1.2, 1.5, 1.6,
          2.0, 2.4, 3.0, 3.5, 4.8, 5.9, 3.5, 1.0,
          0.0, -0.7, -1.8, -0.3, 2.0, 3.1, 2.0, 0.5, 0.4]
Q_AAHP = [10.1, 9.9, 9.8, 10.1, 10.8, 12.0, 10.8, 10.2,
          9.8, 9.8, 9.1, 9.4, 10.5, 11.0, 9.8, 9.7,
          4.2, 1.5, 0.2, 1.2, 2.3, 2.8, 1.5, 1.0,
          1.0, 0.2, -0.8, -1.2, 0.8, 2.7, 0.9, -0.3,
          -0.6, -1.0, -1.8, -1.8, 1.2, 1.9, 0.2, -0.8,
          -1.2, -1.4, -2.7, -0.9, 0.7, 1.2, -0.2, -1.0,
          -1.5, -2.0, -2.2, -0.9, 0.0, 0.9, 1.1, 1.2,
          1.6, 2.0, 2.7, 3.2, 4.5, 5.4, 3.2, 0.7,
          -0.5, -1.2, -2.3, -0.7, 1.8, 2.9, 1.6, 0.2, 0.1]
Q_OBS = [10.0, 9.5, 9.3, 9.8, 10.8, 11.0, 10.4, 9.9,
         9.0, 8.0, 7.7, 8.6, 10.6, 10.3, 9.8, 6.8,
         4.8, 2.8, 0.8, 1.5, 2.1, 3.3, 2.0, 1.0,
         0.4, -0.5, -1.2, -0.3, 1.8, 2.2, 1.2, 0.0,
         -0.5, -1.8, -2.7, -1.0, 0.0, -0.5, -1.0, -1.3,
         -1.5, -1.5, -2.4, -1.0, 0.5, 0.4, -0.8, -2.0,
         -3.0, -3.7, -3.0, -1.8, -0.5, 1.0, 2.3, 2.9,
         3.5, 3.7, 2.6, 2.8, 4.3, 3.4, 2.2, 0.5,
         -1.0, -2.0, -3.3, -1.5, 1.7, 2.5, 0.9, 0.5, 1.5]

STATIONS = ["L Union", "Naubalette", "Blagnac ville", "Bonnefoy", "Minimes",
            "Cité Administrative", "La Coquille", "Ramier", "Pradettes",
            "Saint Michel", "Rangueil", "Saint Orens", "Pech David",
            "ZI Thibaud", "Ramonville", "Labege", "Saint Cyprien"]
LETTERS = list("abcdefghijklmnopq")
BASELINE = [A_BASE, B_BASE, C_BASE, D_BASE, E_BASE, F_BASE, G_BASE, H_BASE, I_BASE,
            J_BASE, K_BASE, L_BASE, M_BASE, N_BASE, O_BASE, P_BASE, Q_BASE]
AAHP = [A_AAHP, B_AAHP, C_AAHP, D_AAHP, E_AAHP, F_AAHP, G_AAHP, H_AAHP, I_AAHP,
        J_AAHP, K_AAHP, L_AAHP, M_AAHP, N_AAHP, O_AAHP, P_AAHP, Q_AAHP]
OBSERVATIONS = [A_OBS, B_OBS, C_OBS, D_OBS, E_OBS, F_OBS, G_OBS, H_OBS, I_OBS,
                J_OBS, K_OBS, L_OBS, M_OBS, N_OBS, O_OBS, P_OBS, Q_OBS]

# styling only
Y_STEP = [2.5, 2, 2, 2, 2, 2, 2, 2, 2, 2, 2, 2, 2, 2.5, 2, 2, 2]
LETTER_DX = [-34, -24, -25, -34, -22, -23, -34, -26, -23,
             -31, -26, -14, -26, -28, -17, -26, -24]

BLUE, ORANGE, GREEN = "#1f77b4", "#ff7f0e", "#2ca02c"


def day_label(x, pos):
    d = mdates.num2date(x)
    if d.day == 22:
        return "22\nJan\n2005"
    return str(d.day)


def draw_station(ax, k):
    sns.lineplot(x=TIMES, y=BASELINE[k], ax=ax, color=BLUE, lw=1.1, label="Baseline")
    sns.lineplot(x=TIMES, y=AAHP[k], ax=ax, color=ORANGE, lw=1.1, label="AAHP")
    sns.lineplot(x=TIMES, y=OBSERVATIONS[k], ax=ax, color=GREEN, lw=1.1,
                 linestyle="--", marker="+", markersize=5.5,
                 markeredgecolor=GREEN, markeredgewidth=1.0, label="Observations")
    ax.set_title(STATIONS[k], fontsize=8.8)
    ax.set_ylabel("Air temperature in °C", fontsize=7.4)
    ax.set_xlabel("")
    ax.yaxis.set_major_locator(MultipleLocator(Y_STEP[k]))
    ax.tick_params(labelsize=7.2)
    ax.legend(loc="upper right", fontsize=7)
    ax.annotate(LETTERS[k], xy=(0, 1), xycoords="axes fraction",
                xytext=(LETTER_DX[k], 10), textcoords="offset pixels",
                fontsize=8, fontweight="bold", ha="center", va="center")


def main():
    fig, axes = plt.subplots(6, 3, figsize=(11.1, 18.56), dpi=100, sharex=True)
    fig.subplots_adjust(left=0.0514, right=0.998, top=0.9865, bottom=0.0232,
                        wspace=0.19, hspace=0.124)
    flat = axes.flatten()
    for k in range(len(STATIONS)):
        draw_station(flat[k], k)
    fig.delaxes(axes[5, 2])

    ax0 = flat[0]
    ax0.set_xlim(TIMES[0], TIMES[-1])
    ax0.xaxis.set_major_locator(mdates.DayLocator())
    ax0.xaxis.set_major_formatter(FuncFormatter(day_label))
    axes[4, 2].tick_params(labelbottom=True)

    fig.savefig("out.png", dpi=100)


if __name__ == "__main__":
    main()
